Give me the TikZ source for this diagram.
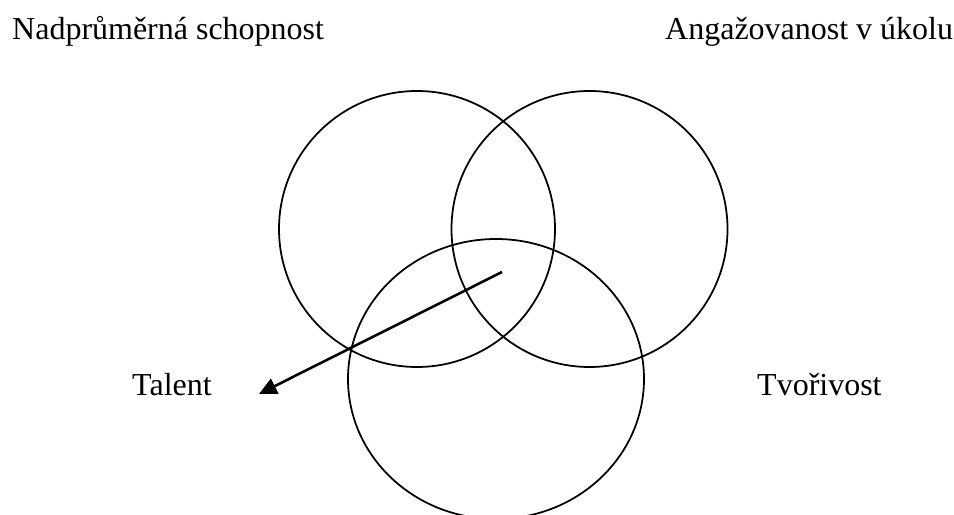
\documentclass[tikz,border=0pt]{standalone}
\usepackage{fontspec}
\setmainfont{Liberation Serif}
\usetikzlibrary{arrows.meta}

\begin{document}
\begin{tikzpicture}[
  x=0.03cm,y=-0.03cm,
  ring/.style={draw=black,line width=1.5pt},
  label/.style={anchor=base west,inner sep=0pt,font=\fontsize{27.3}{32}\selectfont},
  pointer/.style={draw=black,line width=2.2pt,-{Triangle[length=15pt,width=14pt]}}
]
\useasboundingbox (0,0) rectangle (954,515);
\clip (0,0) rectangle (954,515);

\node[label] (abil) at (12,40) {Nadprůměrná schopnost};
\node[label] (task) at (665,40) {Angažovanost v úkolu};
\node[label] (talent) at (132,395) {Talent};
\node[label] (creat) at (757,395) {Tvořivost};

\draw[ring] (417,229) circle[radius=138];
\draw[ring] (589.5,229) circle[radius=138];
\draw[ring] (496,379) ellipse[x radius=148,y radius=140];

\coordinate (core) at (502,272);
\coordinate (tip) at (259,394);
\draw[pointer] (core) -- (tip);
\end{tikzpicture}
\end{document}
